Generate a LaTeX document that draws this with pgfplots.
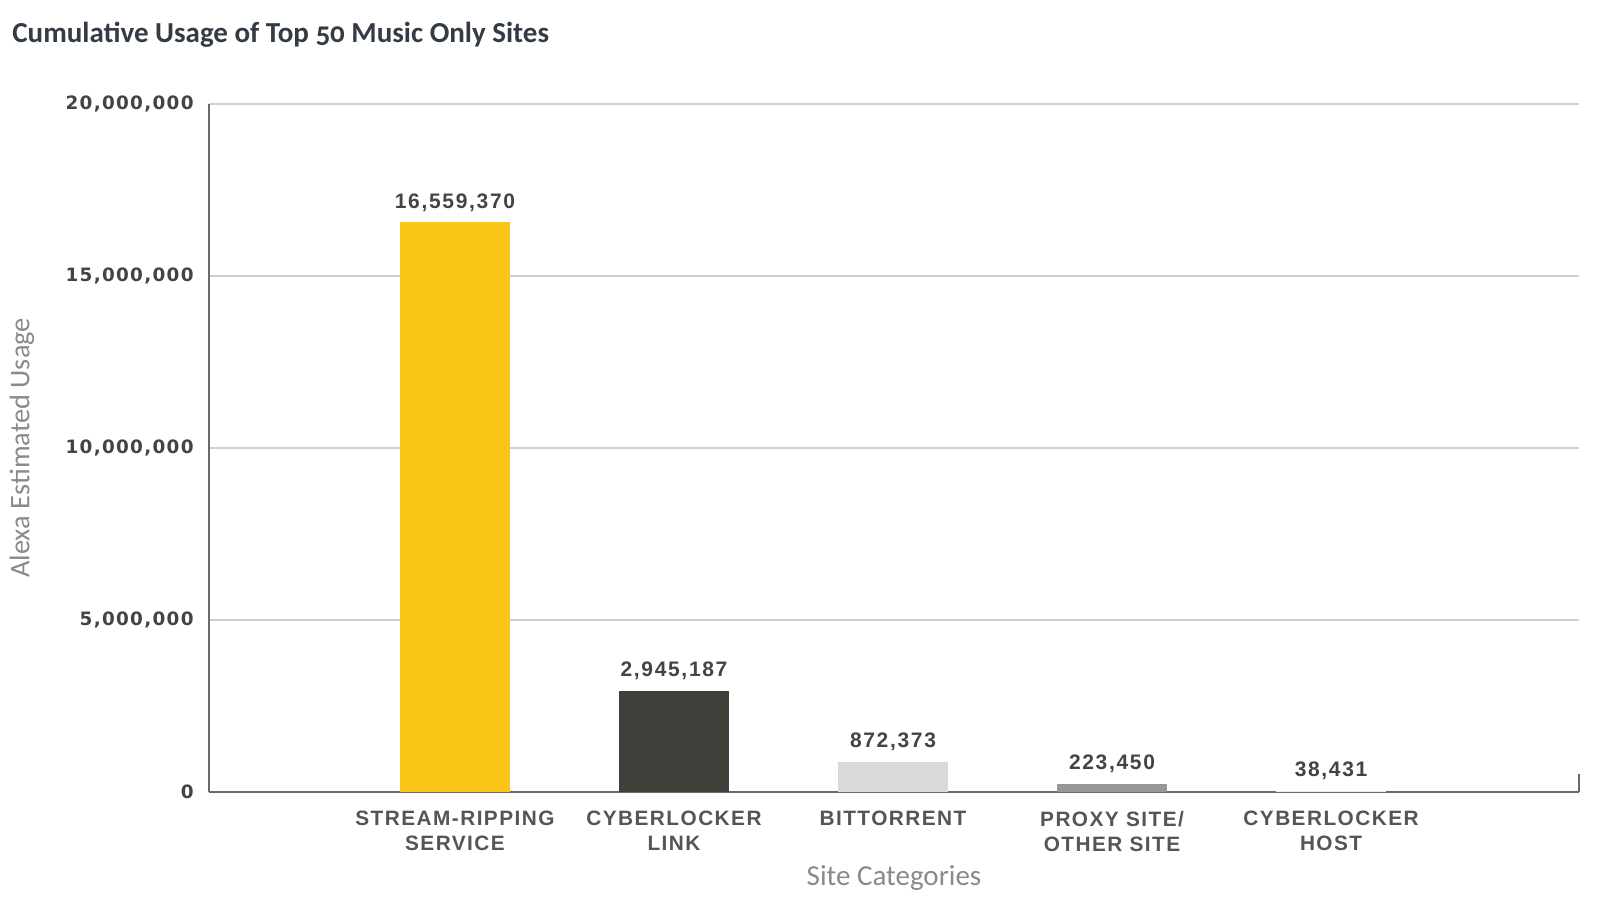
\documentclass[border=0pt]{standalone}
\usepackage{fontspec}
\usepackage{pgfplots}
\pgfplotsset{compat=1.18}
\setmainfont{Carlito}
\newfontfamily\titlefont[Numbers=OldStyle]{Carlito}
\newfontfamily\tickfont[LetterSpace=7]{DejaVu Sans}
\newfontfamily\catfont[LetterSpace=7]{Liberation Sans}
\newfontfamily\valfont[LetterSpace=8]{Liberation Sans}
\definecolor{barY}{HTML}{FAC516}
\definecolor{barD}{HTML}{403F3A}
\definecolor{barL}{HTML}{D9D9D9}
\definecolor{barM}{HTML}{989696}
\definecolor{barH}{HTML}{ECECEC}
\definecolor{axisgray}{HTML}{6A6A6A}
\definecolor{gridgray}{HTML}{D0D0D0}
\definecolor{ticktext}{HTML}{444444}
\definecolor{cattext}{HTML}{555555}
\definecolor{labeltext}{HTML}{8A8A8A}
\definecolor{titletext}{HTML}{333B45}
\begin{document}
\begin{tikzpicture}
\useasboundingbox (-104.5pt,-54pt) rectangle (695.5pt,396pt);
\node[anchor=west, inner sep=0pt, text=titletext, font=\titlefont\bfseries\fontsize{14.5}{17}\selectfont] at (-98.5pt,378.5pt) {Cumulative Usage of Top 50 Music Only Sites};
\begin{axis}[
  at={(0pt,0pt)}, anchor=south west,
  scale only axis, width=685pt, height=344pt,
  xmin=-1.123, xmax=5.132, ymin=0, ymax=20000000,
  axis x line=bottom, axis y line=left,
  axis line style={-, draw=axisgray, line width=1pt},
  major tick length=0pt,
  ytick={0,5000000,10000000,15000000,20000000},
  scaled y ticks=false,
  /pgf/number format/.cd, fixed, precision=0, 1000 sep={,}, assume math mode=true,
  /pgfplots/.cd,
  yticklabel style={anchor=east, inner sep=0pt, xshift=-7.5pt, text=ticktext, font=\tickfont\bfseries\fontsize{9.2}{10}\selectfont},
  xtick={0,1,2,3,4},
  xticklabels={STREAM-RIPPING\\SERVICE, CYBERLOCKER\\LINK, BITTORRENT, PROXY SITE/\\OTHER SITE, CYBERLOCKER\\HOST},
  xticklabel style={anchor=north, inner sep=0pt, yshift=-9.3pt, align=center, text=cattext, font=\catfont\bfseries\fontsize{10.4}{12.5}\selectfont},
  ymajorgrids, grid style={draw=gridgray, line width=0.6pt},
  ybar, bar width=0.5, bar shift=0pt,
  nodes near coords, point meta=explicit symbolic,
  every node near coord/.append style={text=ticktext, font=\valfont\bfseries\fontsize{10.5}{12}\selectfont, yshift=2pt},
  ylabel={Alexa Estimated Usage},
  ylabel style={at={(axis description cs:-0.1365,0.5)}, anchor=center, text=labeltext, font=\fontsize{14.2}{16}\selectfont},
  xlabel={Site Categories},
  xlabel style={at={(axis description cs:0.5,-0.125)}, anchor=center, text=labeltext, font=\fontsize{14.5}{16}\selectfont},
  clip=false,
]
\addplot[fill=barY, draw=none] coordinates {(0,16559370) [16,559,370]};
\addplot[fill=barD, draw=none] coordinates {(1,2945187) [2,945,187]};
\addplot[fill=barL, draw=none] coordinates {(2,872373) [872,373]};
\addplot[fill=barM, draw=none] coordinates {(3,223450) [223,450]};
\addplot[fill=barH, draw=none] coordinates {(4,38431) [38,431]};
\draw[axisgray, line width=1pt] (rel axis cs:1,0) -- ([yshift=9pt]rel axis cs:1,0);
\end{axis}
\end{tikzpicture}
\end{document}
